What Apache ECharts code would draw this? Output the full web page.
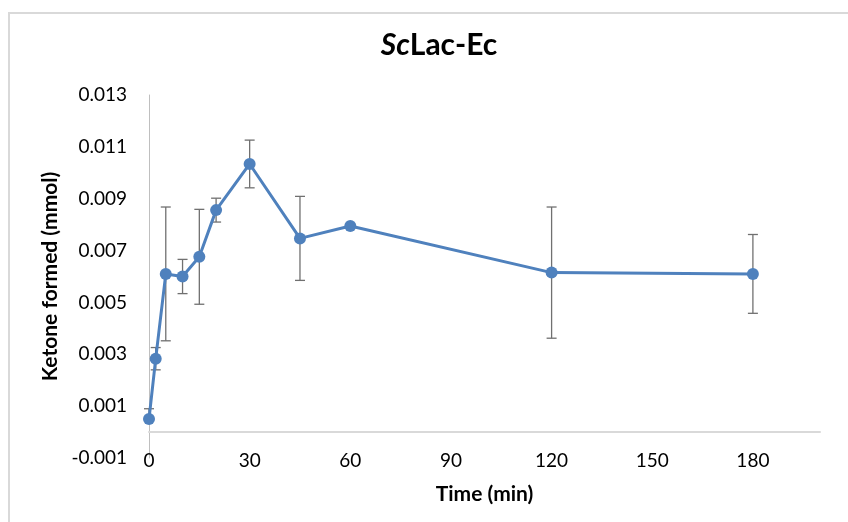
<!DOCTYPE html>
<html>
<head>
<meta charset="utf-8">
<script src="https://cdn.jsdelivr.net/npm/echarts@6/dist/echarts.min.js"></script>
<style>
  html, body { margin: 0; padding: 0; background: #fff; }
  #chart { width: 848px; height: 522px; }
</style>
</head>
<body>
<div id="chart"></div>
<script>
// time points (min)
const times = [0, 2, 5, 10, 15, 20, 30, 45, 60, 120, 180];
// ketone formed (mmol)
const ketone = [0.0005, 0.00283, 0.0061, 0.0060, 0.00676, 0.00856, 0.01034, 0.00747, 0.00795, 0.00615, 0.0061];
// error bar, upper and lower part (mmol)
const errUp = [0.0004, 0.00043, 0.00258, 0.00066, 0.00183, 0.00046, 0.00092, 0.00162, 0, 0.00253, 0.00152];
const errDown = [0, 0.00043, 0.00258, 0.00066, 0.00183, 0.00046, 0.00092, 0.00162, 0, 0.00253, 0.00152];
// y tick labels shown
const yTickLabels = ['-0.001', '0.001', '0.003', '0.005', '0.007', '0.009', '0.011', '0.013'];

const FONT = 'Lato';

const lineData = times.map((t, i) => [t, ketone[i]]);
const errData = times.map((t, i) => [t, ketone[i] - errDown[i], ketone[i] + errUp[i]]);

const chart = echarts.init(document.getElementById('chart'));

const option = {
  backgroundColor: '#fff',
  animation: false,
  title: {
    text: '{i|Sc}Lac-Ec',
    left: 434,
    top: 25,
    textAlign: 'center',
    textStyle: {
      fontFamily: FONT,
      fontSize: 30,
      fontWeight: 'bold',
      color: '#000',
      rich: {
        i: { fontFamily: FONT, fontSize: 30, fontWeight: 'bold', fontStyle: 'italic', color: '#000' }
      }
    }
  },
  graphic: [{
    type: 'rect',
    shape: { x: 9, y: 13, width: 900, height: 600 },
    style: { fill: 'none', stroke: '#d9d9d9', lineWidth: 2 },
    silent: true
  }],
  grid: { left: 149, right: 28, top: 95, bottom: 64, containLabel: false, outerBoundsMode: 'none' },
  xAxis: {
    type: 'value',
    min: 0,
    max: 200,
    interval: 30,
    name: 'Time (min)',
    nameLocation: 'middle',
    nameGap: 26,
    nameTextStyle: { fontFamily: FONT, fontSize: 21, fontWeight: 'bold', color: '#000' },
    axisLine: { onZero: true, lineStyle: { color: '#d9d9d9', width: 2 } },
    axisTick: { show: false },
    splitLine: { show: false },
    axisLabel: {
      margin: 3,
      verticalAlign: 'middle',
      showMaxLabel: false,
      fontFamily: FONT,
      fontSize: 19,
      color: '#000'
    }
  },
  yAxis: {
    type: 'value',
    min: -0.001,
    max: 0.013,
    interval: 0.001,
    name: 'Ketone formed (mmol)',
    nameLocation: 'middle',
    nameGap: 86,
    nameTextStyle: { fontFamily: FONT, fontSize: 21, fontWeight: 'bold', color: '#000' },
    axisLine: { show: true, lineStyle: { color: '#bfbfbf', width: 1 } },
    axisTick: { show: false },
    splitLine: { show: false },
    axisLabel: {
      margin: 22,
      fontFamily: FONT,
      fontSize: 19,
      color: '#000',
      formatter: (v) => {
        const s = v.toFixed(3);
        return yTickLabels.indexOf(s) >= 0 ? s : '';
      }
    }
  },
  series: [
    {
      type: 'custom',
      z: 1,
      silent: true,
      data: errData,
      renderItem: (params, api) => {
        const x = api.value(0);
        const y = api.coord([x, ketone[params.dataIndex]]);
        const lo = api.coord([x, api.value(1)]);
        const hi = api.coord([x, api.value(2)]);
        if (Math.abs(hi[1] - lo[1]) < 1) return null;
        const w = 5;
        const style = { stroke: '#707070', lineWidth: 1.3 };
        const kids = [{ type: 'line', shape: { x1: lo[0], y1: lo[1], x2: hi[0], y2: hi[1] }, style }];
        if (lo[1] - y[1] > 0.5) kids.push({ type: 'line', shape: { x1: lo[0] - w, y1: lo[1], x2: lo[0] + w, y2: lo[1] }, style });
        if (y[1] - hi[1] > 0.5) kids.push({ type: 'line', shape: { x1: hi[0] - w, y1: hi[1], x2: hi[0] + w, y2: hi[1] }, style });
        return { type: 'group', children: kids };
      }
    },
    {
      type: 'line',
      z: 3,
      data: lineData,
      symbol: 'circle',
      symbolSize: 12,
      lineStyle: { color: '#4f81bd', width: 3 },
      itemStyle: { color: '#4f81bd' }
    }
  ]
};

chart.setOption(option);
</script>
</body>
</html>
